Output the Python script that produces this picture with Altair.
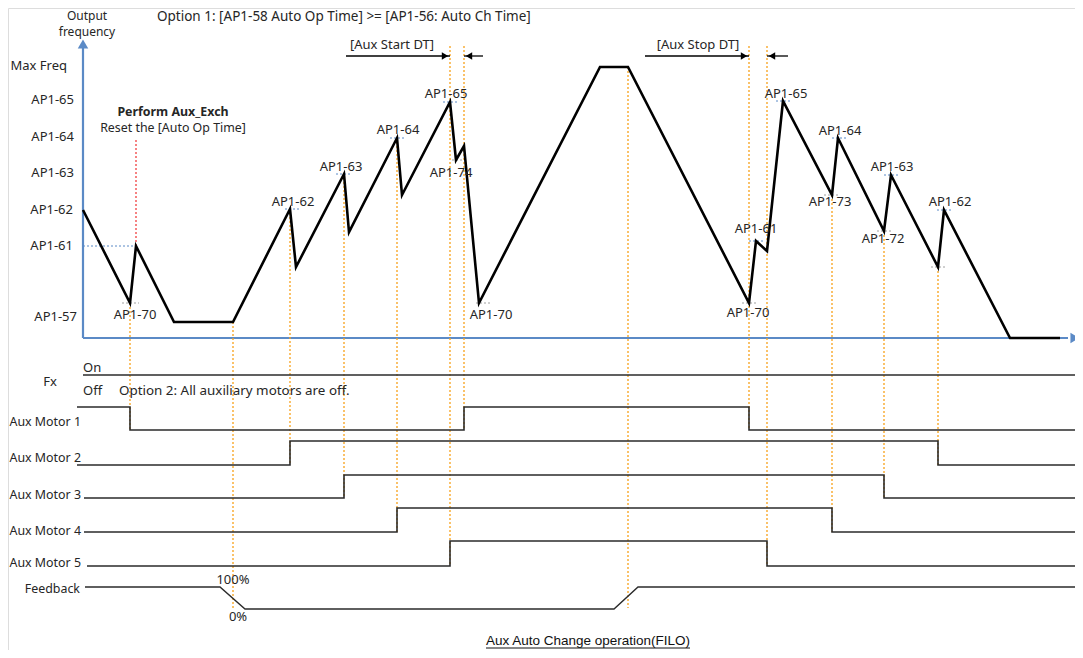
import altair as alt
import pandas as pd

# ---------------- data (drawing units: time along x, level along y) ----------------
freq_t = [83, 130, 136, 174, 233, 290, 296, 344, 349, 397, 402, 450, 456, 464, 479,
          600, 628, 749, 756, 767, 783, 832, 838, 884, 891, 938, 944, 1010, 1060]
freq_v = [210, 303, 246, 322, 322, 209, 267, 174, 232, 138, 195, 102, 160, 146, 303,
          67, 67, 303, 241, 251, 101, 195, 138, 231, 175, 267, 210, 338, 338]

ylab_text = ["Max Freq", "AP1-65", "AP1-64", "AP1-63", "AP1-62", "AP1-61", "AP1-57"]
ylab_pos = [66, 100, 137, 173, 210, 246, 317]
ylab_right = [67, 74, 74, 74, 73, 73, 77]

peak_text = ["AP1-70", "AP1-62", "AP1-63", "AP1-64", "AP1-65", "AP1-74", "AP1-70",
             "AP1-65", "AP1-61", "AP1-70", "AP1-64", "AP1-73", "AP1-63", "AP1-72", "AP1-62"]
peak_x = [135, 293, 341, 398, 446, 451, 491, 786, 756, 748, 840, 830, 892, 883, 950]
peak_y = [315, 202, 167, 130, 94, 173, 315, 94, 229, 313, 131, 202, 167, 239, 202]

# short level markers near labelled points
blue_mark_x1 = [285, 336, 390, 443, 776, 749, 832, 884, 937]
blue_mark_x2 = [300, 352, 406, 458, 791, 764, 846, 900, 951]
blue_mark_y = [209, 174, 138, 102, 101, 241, 138, 175, 210]
gray_mark_x1 = [122, 452, 476, 742, 824, 877, 931]
gray_mark_x2 = [139, 462, 490, 756, 840, 893, 947]
gray_mark_y = [303, 160, 303, 303, 195, 231, 267]

# event markers (orange dotted)
evt_x = [130, 233, 290, 344, 397, 450, 464, 628, 749, 767, 832, 884, 938]
evt_top = [303, 322, 209, 174, 138, 46, 46, 67, 46, 46, 195, 231, 267]
evt_bot = [430, 608, 465, 498, 532, 565, 430, 608, 430, 565, 532, 498, 465]

# digital traces
sig_names = ["Fx", "Aux Motor 1", "Aux Motor 2", "Aux Motor 3", "Aux Motor 4", "Aux Motor 5"]
sig_t = [[83, 1078],
         [77, 130, 464, 749, 1078],
         [77, 290, 938, 1078],
         [84, 344, 884, 1078],
         [84, 397, 832, 1078],
         [87, 450, 767, 1078]]
sig_v = [[375, 375],
         [407, 430, 407, 430, 430],
         [465, 441, 465, 465],
         [498, 475, 498, 498],
         [532, 508, 532, 532],
         [566, 541, 566, 566]]
sig_label_y = [382, 422, 458, 495, 531, 563]

fb_t = [85, 220, 245, 614, 638, 1078]
fb_v = [587, 587, 609, 609, 587, 587]

# ---------------- scales ----------------
W, H = 1067, 642
xs = alt.Scale(domain=[8, 8 + W], nice=False, zero=False)
ys = alt.Scale(domain=[8, 8 + H], nice=False, zero=False, reverse=True)
X = lambda f="x": alt.X(f"{f}:Q", scale=xs, axis=None)
Y = lambda f="y": alt.Y(f"{f}:Q", scale=ys, axis=None)

FONT = "Noto Sans"
TXT = "#262626"
BLUE = "#5B8AC6"
ORANGE = "#F7A11A"
FS = 13

layers = []

# axes
axis_df = pd.DataFrame({"x": [83, 83], "y": [338, 338], "x2": [83, 1068], "y2": [48, 338]})
layers.append(alt.Chart(axis_df).mark_rule(color=BLUE, strokeWidth=2.2).encode(
    x=X(), y=Y(), x2="x2:Q", y2="y2:Q"))
arrow_ax = pd.DataFrame({"x": [83], "y": [44]})
layers.append(alt.Chart(arrow_ax).mark_point(shape="triangle-up", filled=True, size=110,
                                             color=BLUE, opacity=1).encode(x=X(), y=Y()))
arrow_ax2 = pd.DataFrame({"x": [1075], "y": [338]})
layers.append(alt.Chart(arrow_ax2).mark_point(shape="triangle-right", filled=True, size=110,
                                              color=BLUE, opacity=1).encode(x=X(), y=Y()))

# orange event lines
evt_df = pd.DataFrame({"x": evt_x, "y": evt_top, "y2": evt_bot})
layers.append(alt.Chart(evt_df).mark_rule(color=ORANGE, strokeWidth=1.3, strokeDash=[2, 2]).encode(
    x=X(), y=Y(), y2="y2:Q"))

# AP1-61 guide + reset marker
guide_df = pd.DataFrame({"x": [83], "x2": [136], "y": [246]})
layers.append(alt.Chart(guide_df).mark_rule(color=BLUE, strokeWidth=1, strokeDash=[2, 2]).encode(
    x=X(), x2="x2:Q", y=Y()))
red_df = pd.DataFrame({"x": [136], "y": [140], "y2": [246]})
layers.append(alt.Chart(red_df).mark_rule(color="#F03030", strokeWidth=1.2, strokeDash=[2, 2]).encode(
    x=X(), y=Y(), y2="y2:Q"))

# short level markers
bm = pd.DataFrame({"x": blue_mark_x1, "x2": blue_mark_x2, "y": blue_mark_y})
layers.append(alt.Chart(bm).mark_rule(color=BLUE, strokeWidth=1, strokeDash=[2, 2]).encode(
    x=X(), x2="x2:Q", y=Y()))
gm = pd.DataFrame({"x": gray_mark_x1, "x2": gray_mark_x2, "y": gray_mark_y})
layers.append(alt.Chart(gm).mark_rule(color="#A0A0A0", strokeWidth=1, strokeDash=[2, 2]).encode(
    x=X(), x2="x2:Q", y=Y()))

# output frequency curve
fdf = pd.DataFrame({"x": freq_t, "y": freq_v, "o": list(range(len(freq_t)))})
layers.append(alt.Chart(fdf).mark_line(color="black", strokeWidth=2.6, strokeJoin="miter").encode(
    x=X(), y=Y(), order="o:Q"))

# digital traces
rows = []
for n, ts, vs in zip(sig_names, sig_t, sig_v):
    for i, (t, v) in enumerate(zip(ts, vs)):
        rows.append({"s": n, "x": t, "y": v, "o": i})
sdf = pd.DataFrame(rows)
layers.append(alt.Chart(sdf).mark_line(color="#2b2b2b", strokeWidth=1.6, interpolate="step-after").encode(
    x=X(), y=Y(), detail="s:N", order="o:Q"))

fbdf = pd.DataFrame({"x": fb_t, "y": fb_v, "o": list(range(len(fb_t)))})
layers.append(alt.Chart(fbdf).mark_line(color="#2b2b2b", strokeWidth=1.4).encode(
    x=X(), y=Y(), order="o:Q"))

# DT arrows
dt_df = pd.DataFrame({"x": [346, 483, 645, 788], "x2": [450, 464, 749, 767], "y": [56, 56, 56, 56]})
layers.append(alt.Chart(dt_df).mark_rule(color="black", strokeWidth=1.3).encode(
    x=X(), x2="x2:Q", y=Y()))
ar_r = pd.DataFrame({"x": [445, 744], "y": [56, 56]})
layers.append(alt.Chart(ar_r).mark_point(shape="triangle-right", filled=True, size=55,
                                         color="black", opacity=1).encode(x=X(), y=Y()))
ar_l = pd.DataFrame({"x": [469, 772], "y": [56, 56]})
layers.append(alt.Chart(ar_l).mark_point(shape="triangle-left", filled=True, size=55,
                                         color="black", opacity=1).encode(x=X(), y=Y()))


def text_layer(df, align, size=FS, weight="normal", font=FONT, color=TXT):
    return alt.Chart(df).mark_text(align=align, baseline="middle", fontSize=size,
                                   fontWeight=weight, font=font, color=color).encode(
        x=X(), y=Y(), text="t:N")


# y level labels
layers.append(text_layer(pd.DataFrame({"x": ylab_right, "y": ylab_pos, "t": ylab_text}), "right"))
# peak labels
layers.append(text_layer(pd.DataFrame({"x": peak_x, "y": peak_y, "t": peak_text}), "center"))
# signal labels
sl = pd.DataFrame({"x": [81, 81, 81, 81, 81, 80], "y": sig_label_y[1:] + [589],
                   "t": sig_names[1:] + ["Feedback"]})
layers.append(text_layer(sl, "right", size=12.4))
layers.append(text_layer(pd.DataFrame({"x": [50], "y": [382], "t": ["Fx"]}), "center"))
layers.append(text_layer(pd.DataFrame({"x": [83, 83], "y": [368, 391], "t": ["On", "Off"]}), "left"))
layers.append(text_layer(pd.DataFrame({"x": [119], "y": [391],
                                       "t": ["Option 2: All auxiliary motors are off."]}),
                         "left", size=13.4))
layers.append(text_layer(pd.DataFrame({"x": [233, 238], "y": [580, 617], "t": ["100%", "0%"]}), "center"))
layers.append(text_layer(pd.DataFrame({"x": [87, 87], "y": [16, 32], "t": ["Output", "frequency"]}),
                         "center", size=12))
layers.append(text_layer(pd.DataFrame({"x": [157], "y": [17],
                                       "t": ["Option 1: [AP1-58 Auto Op Time] >= [AP1-56: Auto Ch Time]"]}),
                         "left", size=13.5))
layers.append(text_layer(pd.DataFrame({"x": [392, 698], "y": [45, 45],
                                       "t": ["[Aux Start DT]", "[Aux Stop DT]"]}), "center"))
layers.append(text_layer(pd.DataFrame({"x": [173], "y": [112], "t": ["Perform Aux_Exch"]}),
                         "center", size=12.4, weight="bold"))
layers.append(text_layer(pd.DataFrame({"x": [173], "y": [128], "t": ["Reset the [Auto Op Time]"]}),
                         "center", size=12.4))

# bottom caption (underlined)
layers.append(text_layer(pd.DataFrame({"x": [588], "y": [641], "t": ["Aux Auto Change operation(FILO)"]}),
                         "center", size=13.5, font="Liberation Sans", color="#111111"))
ul = pd.DataFrame({"x": [486], "x2": [690], "y": [648]})
layers.append(alt.Chart(ul).mark_rule(color="#111111", strokeWidth=1).encode(x=X(), x2="x2:Q", y=Y()))

chart = alt.layer(*layers).properties(
    width=W, height=H, padding=0, autosize=alt.AutoSizeParams(type="none")
).configure_view(stroke=None).configure(background="white")

chart.save("out.html", embed_options={"renderer": "svg", "actions": False})
